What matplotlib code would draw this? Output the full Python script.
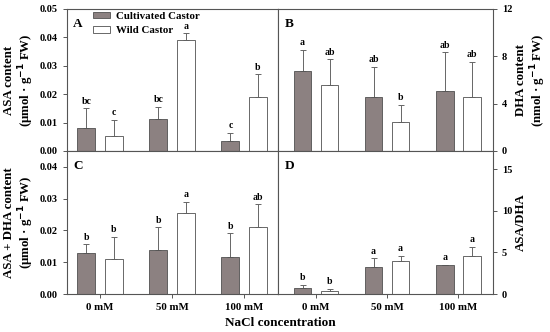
import matplotlib
matplotlib.use("Agg")
import matplotlib.pyplot as plt
import matplotlib.patches as mpatches
import numpy as np

plt.rcParams["font.family"] = ["Liberation Serif", "DejaVu Serif"]
plt.rcParams["font.weight"] = "bold"

groups = ["0 mM", "50 mM", "100 mM"]

# panel A: ASA content (umol/g FW)
asa_cult = [0.0082, 0.0114, 0.0035]
asa_cult_err = [0.0068, 0.0041, 0.0030]
asa_wild = [0.0052, 0.0392, 0.0190]
asa_wild_err = [0.0058, 0.0023, 0.0080]
asa_cult_lbl = ["bc", "bc", "c"]
asa_wild_lbl = ["c", "a", "b"]

# panel B: DHA content (nmol/g FW)
dha_cult = [6.8, 4.6, 5.1]
dha_cult_err = [1.75, 2.5, 3.25]
dha_wild = [5.6, 2.45, 4.55]
dha_wild_err = [2.15, 1.45, 3.0]
dha_cult_lbl = ["a", "ab", "ab"]
dha_wild_lbl = ["ab", "b", "ab"]

# panel C: ASA + DHA content (umol/g FW)
tot_cult = [0.0130, 0.0140, 0.0115]
tot_cult_err = [0.0027, 0.0070, 0.0076]
tot_wild = [0.0110, 0.0254, 0.0212]
tot_wild_err = [0.0070, 0.0036, 0.0070]
tot_cult_lbl = ["b", "b", "b"]
tot_wild_lbl = ["b", "a", "ab"]

# panel D: ASA/DHA
ratio_cult = [0.72, 3.2, 3.48]
ratio_cult_err = [0.40, 1.12, 0.0]
ratio_wild = [0.40, 3.92, 4.6]
ratio_wild_err = [0.20, 0.68, 1.08]
ratio_cult_lbl = ["b", "a", "a"]
ratio_wild_lbl = ["b", "a", "a"]

CULT = "#8c8181"
EDGE = "#505050"
SPINE = "#555555"

fig = plt.figure(figsize=(5.5, 3.32), dpi=100)
L, M, R = 67 / 550, 278 / 550, 493 / 550
T, H, B = 1 - 9 / 332, 1 - 151 / 332, 1 - 294 / 332
axA = fig.add_axes([L, H, M - L, T - H])
axB = fig.add_axes([M, H, R - M, T - H])
axC = fig.add_axes([L, B, M - L, H - B])
axD = fig.add_axes([M, B, R - M, H - B])


def panel(ax, cult, cerr, wild, werr, clbl, wlbl, ymax, ticks, ticklabels,
          letter, ylabel, right, xlim, bottom_row):
    x = np.arange(len(groups))
    w, off = 0.25, 0.19
    ax.bar(x - off, cult, w, color=CULT, edgecolor=EDGE, linewidth=0.6, zorder=2)
    ax.bar(x + off, wild, w, color="white", edgecolor=EDGE, linewidth=0.6, zorder=2)
    ekw = dict(fmt="none", ecolor="#666666", elinewidth=0.7, capsize=2.2,
               capthick=0.7, zorder=1)
    ax.errorbar(x - off, cult, yerr=[np.zeros(3), cerr], **ekw)
    ax.errorbar(x + off, wild, yerr=[np.zeros(3), werr], **ekw)
    pad = ymax * 0.018
    for xi, v, e, t in zip(x - off, cult, cerr, clbl):
        ax.text(xi, v + e + pad, t, ha="center", va="bottom", fontsize=7,
                fontweight="bold")
    for xi, v, e, t in zip(x + off, wild, werr, wlbl):
        ax.text(xi, v + e + pad, t, ha="center", va="bottom", fontsize=7,
                fontweight="bold")
    ax.set_xlim(*xlim)
    ax.set_ylim(0, ymax)
    ax.set_yticks(ticks)
    ax.set_yticklabels(ticklabels, fontsize=7.5, fontweight="bold")
    if bottom_row:
        ax.set_xticks(x)
        ax.set_xticklabels(groups, fontsize=7.8, fontweight="bold")
    else:
        ax.set_xticks([])
    for s in ax.spines.values():
        s.set_color(SPINE)
        s.set_linewidth(0.8)
    ax.tick_params(colors=SPINE, labelcolor="black", length=3, width=0.7)
    ax.set_ylabel(ylabel, fontsize=9.3, fontweight="bold", linespacing=1.1)
    if right:
        ax.yaxis.tick_right()
        ax.yaxis.set_label_position("right")
        ax.yaxis.set_label_coords((515 - 278) / 215, 0.5)
    else:
        ax.yaxis.set_label_coords(-(67 - 36) / 211, 0.5)
    ax.text(0.03, 0.94, letter, transform=ax.transAxes, fontsize=9.5,
            fontweight="bold", va="top", ha="left")


left_lim = (-0.458, 2.47)
right_lim = (-0.535, 2.49)

panel(axA, asa_cult, asa_cult_err, asa_wild, asa_wild_err, asa_cult_lbl,
      asa_wild_lbl, 0.05, [0, 0.01, 0.02, 0.03, 0.04, 0.05],
      ["0.00", "0.01", "0.02", "0.03", "0.04", "0.05"], "A",
      "ASA content\n(μmol · g$^{-1}$ FW)", False, left_lim, False)
panel(axB, dha_cult, dha_cult_err, dha_wild, dha_wild_err, dha_cult_lbl,
      dha_wild_lbl, 12, [0, 4, 8, 12], ["0", "4", "8", "12"], "B",
      "DHA content\n(nmol · g$^{-1}$ FW)", True, right_lim, False)
panel(axC, tot_cult, tot_cult_err, tot_wild, tot_wild_err, tot_cult_lbl,
      tot_wild_lbl, 0.045, [0, 0.01, 0.02, 0.03, 0.04],
      ["0.00", "0.01", "0.02", "0.03", "0.04"], "C",
      "ASA + DHA content\n(μmol · g$^{-1}$ FW)", False, left_lim, True)
panel(axD, ratio_cult, ratio_cult_err, ratio_wild, ratio_wild_err,
      ratio_cult_lbl, ratio_wild_lbl, 17.2, [0, 5, 10, 15],
      ["0", "5", "10", "15"], "D", "ASA/DHA", True, right_lim, True)

handles = [mpatches.Patch(facecolor=CULT, edgecolor=EDGE, linewidth=0.6,
                          label="Cultivated Castor"),
           mpatches.Patch(facecolor="white", edgecolor=EDGE, linewidth=0.6,
                          label="Wild Castor")]
axA.legend(handles=handles, loc="upper left", bbox_to_anchor=(0.075, 1.05),
           frameon=False, handlelength=1.6, handleheight=0.55,
           handletextpad=0.6, labelspacing=0.5,
           prop={"weight": "bold", "size": 7.8})

fig.text((L + R) / 2, 0.028, "NaCl concentration", ha="center", va="center",
         fontsize=9.5, fontweight="bold")

fig.savefig("out.png", dpi=100)
